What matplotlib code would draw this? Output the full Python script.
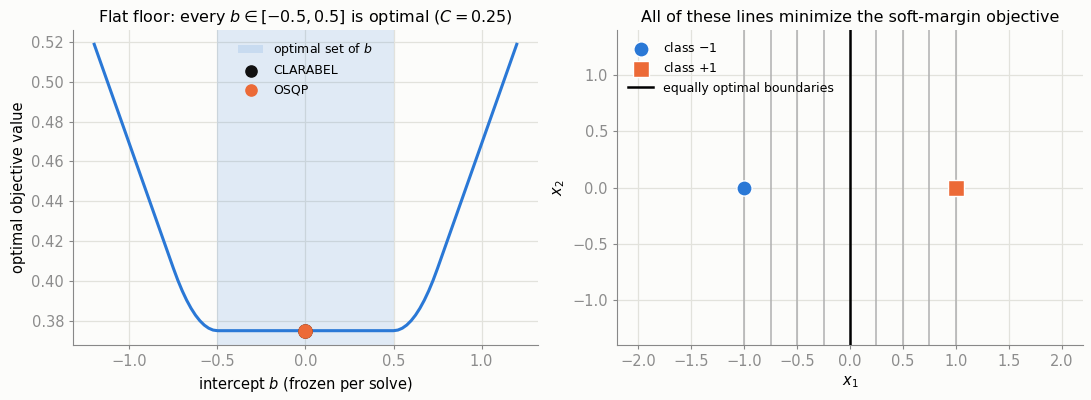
import matplotlib
matplotlib.use("Agg")
from matplotlib import pyplot as plt

# left panel: optimal objective for each frozen intercept b
b_values = [-1.2, -1.15, -1.1, -1.05, -1.0, -0.95, -0.9, -0.85, -0.8, -0.75,
            -0.725, -0.7, -0.675, -0.65, -0.625, -0.6, -0.575, -0.55, -0.525, -0.5,
            -0.25, 0.0, 0.25,
            0.5, 0.525, 0.55, 0.575, 0.6, 0.625, 0.65, 0.675, 0.7, 0.725,
            0.75, 0.8, 0.85, 0.9, 0.95, 1.0, 1.05, 1.1, 1.15, 1.2]
objective = [0.51875, 0.50625, 0.49375, 0.48125, 0.46875, 0.45625, 0.44375, 0.43125, 0.41875, 0.40625,
             0.40031, 0.395, 0.39031, 0.38625, 0.38281, 0.38, 0.37781, 0.37625, 0.37531, 0.375,
             0.375, 0.375, 0.375,
             0.375, 0.37531, 0.37625, 0.37781, 0.38, 0.38281, 0.38625, 0.39031, 0.395, 0.40031,
             0.40625, 0.41875, 0.43125, 0.44375, 0.45625, 0.46875, 0.48125, 0.49375, 0.50625, 0.51875]
optimal_b_range = (-0.5, 0.5)
solver_b = {"CLARABEL": 0.0, "OSQP": 0.0}
solver_obj = {"CLARABEL": 0.375, "OSQP": 0.375}

# right panel: two training points and the equally optimal boundaries
neg_points = ([-1.0], [0.0])
pos_points = ([1.0], [0.0])
boundaries = [-1.0, -0.75, -0.5, -0.25, 0.25, 0.5, 0.75, 1.0]
main_boundary = 0.0

BLUE = "#2a78d6"
ORANGE = "#ec6a37"
BG = "#fcfcfa"
GRID = "#e2e2dc"
SPINE = "#888888"
TICK = "#8c8c8c"

plt.rcParams["font.family"] = "DejaVu Sans"
fig = plt.figure(figsize=(10.91, 4.0), dpi=100, facecolor=BG)
ax1 = fig.add_axes([0.067, 0.1375, 0.426, 0.7875])
ax2 = fig.add_axes([0.5655, 0.1375, 0.4272, 0.7875])

for ax in (ax1, ax2):
    ax.set_facecolor(BG)
    ax.grid(True, color=GRID, linewidth=0.9)
    ax.set_axisbelow(True)
    for side in ("top", "right"):
        ax.spines[side].set_visible(False)
    for side in ("left", "bottom"):
        ax.spines[side].set_color(SPINE)
    ax.tick_params(colors=SPINE, labelcolor=TICK, labelsize=10.5, length=3)

# left
ax1.axvspan(*optimal_b_range, color=BLUE, alpha=0.13, linewidth=0, label="optimal set of $b$")
ax1.plot(b_values, objective, color=BLUE, linewidth=2.2)
ax1.scatter([solver_b["CLARABEL"]], [solver_obj["CLARABEL"]], s=90, color="#111111",
            zorder=4, label="CLARABEL")
ax1.scatter([solver_b["OSQP"]], [solver_obj["OSQP"]], s=90, color=ORANGE,
            zorder=5, label="OSQP")
ax1.set_xticks([-1.0, -0.5, 0.0, 0.5, 1.0])
ax1.set_yticks([0.38, 0.40, 0.42, 0.44, 0.46, 0.48, 0.50, 0.52])
ax1.set_xlabel("intercept $b$ (frozen per solve)", fontsize=10.5)
ax1.set_ylabel("optimal objective value", fontsize=10.5)
ax1.set_title(r"Flat floor: every $b\in[-0.5, 0.5]$ is optimal ($C=0.25$)", fontsize=11.5)
ax1.legend(loc="upper center", frameon=False, fontsize=9, markerscale=0.85)

# right
for x in boundaries:
    ax2.axvline(x, color="#b0b0b0", linewidth=1.1, zorder=2)
ax2.axvline(main_boundary, color="black", linewidth=1.8, zorder=3,
            label="equally optimal boundaries")
ax2.scatter(*neg_points, s=120, marker="o", color=BLUE, edgecolor="white",
            linewidth=1, zorder=5, label="class $-1$")
ax2.scatter(*pos_points, s=120, marker="s", color=ORANGE, edgecolor="white",
            linewidth=1, zorder=5, label="class $+1$")
ax2.set_xlim(-2.2, 2.2)
ax2.set_ylim(-1.4, 1.4)
ax2.set_xticks([-2.0, -1.5, -1.0, -0.5, 0.0, 0.5, 1.0, 1.5, 2.0])
ax2.set_yticks([-1.0, -0.5, 0.0, 0.5, 1.0])
ax2.set_xlabel("$x_1$", fontsize=10.5)
ax2.set_ylabel("$x_2$", fontsize=10.5)
ax2.set_title("All of these lines minimize the soft-margin objective", fontsize=11.5)
handles, labels = ax2.get_legend_handles_labels()
order = [1, 2, 0]
ax2.legend([handles[i] for i in order], [labels[i] for i in order],
           loc="upper left", frameon=False, fontsize=9)

fig.savefig("out.png", dpi=100, facecolor=BG)
